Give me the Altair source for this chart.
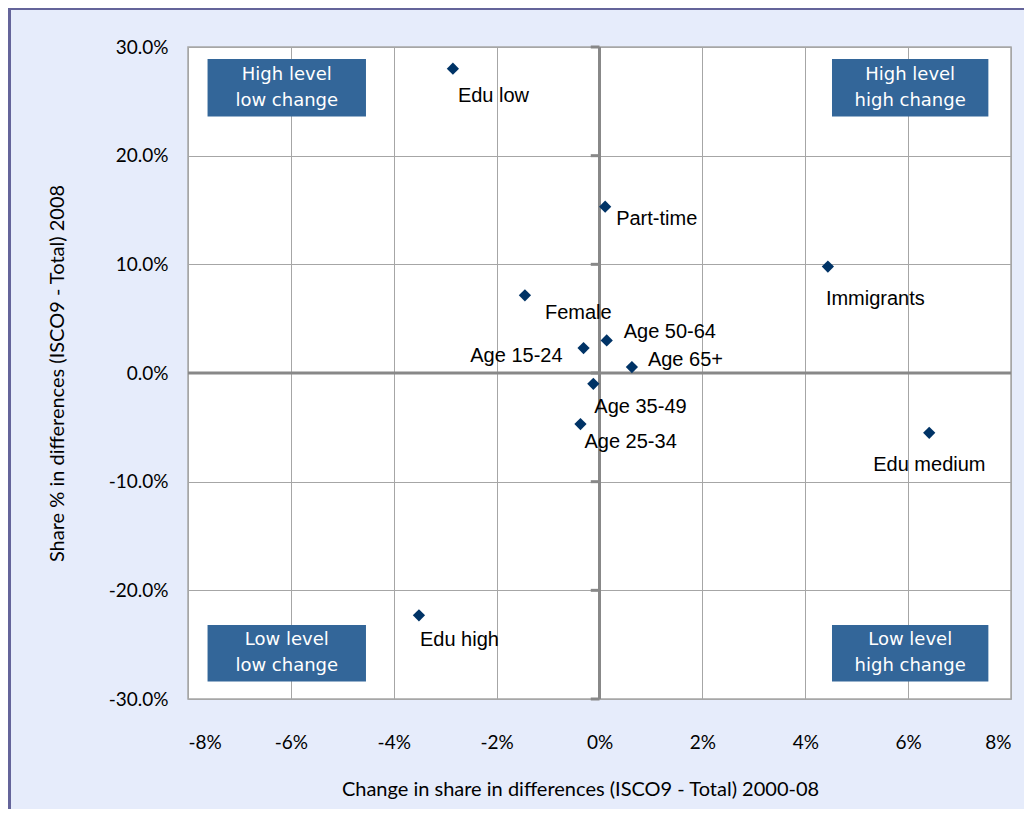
import altair as alt
import pandas as pd

# ---- data ----
names = ["Edu low", "Part-time", "Immigrants", "Female", "Age 50-64", "Age 15-24",
         "Age 65+", "Age 35-49", "Age 25-34", "Edu medium", "Edu high"]
change = [-2.85, 0.11, 4.44, -1.45, 0.14, -0.31, 0.63, -0.12, -0.37, 6.41, -3.51]   # % points
share = [28.0, 15.3, 9.8, 7.15, 3.0, 2.3, 0.55, -1.0, -4.7, -5.5, -22.3]           # %

quad_labels = ["High level\nlow change", "High level\nhigh change",
               "Low level\nlow change", "Low level\nhigh change"]
quad_x1 = [-7.62, 4.52, -7.62, 4.52]
quad_x2 = [-4.54, 7.56, -4.54, 7.56]
quad_y1 = [23.6, 23.6, -28.4, -28.4]
quad_y2 = [28.9, 28.9, -23.2, -23.2]

x_ticks = [-8, -6, -4, -2, 0, 2, 4, 6, 8]
y_ticks = [-30, -20, -10, 0, 10, 20, 30]

# label placement (pixel offsets from the point) -- styling
label_dx = [5, 11, -2, 20, 17, -21, 16, 1, 4, -56, 1]
label_dy = [27, 12, 32, 18, -8, 8, -7, 23, 18, 32, 25]
label_align = ["left", "left", "left", "left", "left", "right",
               "left", "left", "left", "left", "left"]

df = pd.DataFrame({"name": names,
                   "x": [v / 100 for v in change],
                   "y": [v / 100 for v in share]})
qdf = pd.DataFrame({"label": quad_labels,
                    "x1": [v / 100 for v in quad_x1], "x2": [v / 100 for v in quad_x2],
                    "y1": [v / 100 for v in quad_y1], "y2": [v / 100 for v in quad_y2]})
qdf["xc"] = (qdf.x1 + qdf.x2) / 2
qdf["yc"] = (qdf.y1 + qdf.y2) / 2
tdf = pd.DataFrame({"y": [v / 100 for v in y_ticks]})

W, H = 823, 652
PAD = {"left": 180, "top": 39, "right": 13, "bottom": 110}
AXIS_FONT = "Lato"
FIX_MINUS = "replace(datum.label, '\u2212', '-')"

xscale = alt.Scale(domain=[-0.08, 0.08], nice=False, zero=False)
yscale = alt.Scale(domain=[-0.30, 0.30], nice=False, zero=False)

xaxis = alt.Axis(values=[v / 100 for v in x_ticks], format=".0%", labelExpr=FIX_MINUS,
                 grid=True, gridColor="#A6A6A6", gridWidth=1, domain=False, ticks=False,
                 labelFont=AXIS_FONT, labelFontSize=19, labelColor="black",
                 labelPadding=34,
                 title="Change in share in differences  (ISCO9 - Total) 2000-08",
                 titleFont=AXIS_FONT, titleFontSize=20, titleFontWeight="normal",
                 titleColor="black", titleX=392, titleY=90, titleBaseline="middle")
yaxis = alt.Axis(values=[v / 100 for v in y_ticks], format=".1%", labelExpr=FIX_MINUS,
                 grid=True, gridColor="#A6A6A6", gridWidth=1, domain=False, ticks=False,
                 labelFont=AXIS_FONT, labelFontSize=19, labelColor="black",
                 labelPadding=20,
                 title="Share % in differences (ISCO9 - Total) 2008",
                 titleFont=AXIS_FONT, titleFontSize=20, titleFontWeight="normal",
                 titleColor="black", titleX=-131, titleY=326, titleBaseline="middle",
                 titleAngle=-90)

base = alt.Chart(df)

one = pd.DataFrame({"a": [0]})
frame_left = alt.Chart(one).mark_rule(color="#64649A", strokeWidth=4).encode(
    x=alt.value(-PAD["left"] + 1), y=alt.value(-PAD["top"] - 1),
    y2=alt.value(H + PAD["bottom"]))
frame_top = alt.Chart(one).mark_rule(color="#64649A", strokeWidth=4).encode(
    y=alt.value(-PAD["top"] + 0), x=alt.value(-PAD["left"] - 1),
    x2=alt.value(W + PAD["right"]))

points_axes = base.mark_point(shape="diamond", size=0, opacity=0).encode(
    x=alt.X("x:Q", scale=xscale, axis=xaxis),
    y=alt.Y("y:Q", scale=yscale, axis=yaxis),
)

quad_rect = alt.Chart(qdf).mark_rect(color="#336699").encode(
    x=alt.X("x1:Q", scale=xscale), x2="x2:Q",
    y=alt.Y("y1:Q", scale=yscale), y2="y2:Q")
quad_text = alt.Chart(qdf).mark_text(
    color="white", font="DejaVu Sans", fontSize=18, lineBreak="\n", lineHeight=26,
    align="center", baseline="middle", dy=-13
).encode(x=alt.X("xc:Q", scale=xscale), y=alt.Y("yc:Q", scale=yscale), text="label:N")

zero_v = alt.Chart(pd.DataFrame({"x": [0.0]})).mark_rule(
    color="#888888", strokeWidth=3).encode(x=alt.X("x:Q", scale=xscale))
zero_h = alt.Chart(pd.DataFrame({"y": [0.0]})).mark_rule(
    color="#888888", strokeWidth=3).encode(y=alt.Y("y:Q", scale=yscale))
yticks = alt.Chart(tdf).transform_calculate(x1="-0.0017", x2="0").mark_rule(
    color="#888888", strokeWidth=3).encode(
    y=alt.Y("y:Q", scale=yscale), x=alt.X("x1:Q", scale=xscale), x2="x2:Q")

pts = base.mark_point(shape="diamond", filled=True, size=150, color="#003366",
                      opacity=1).encode(
    x=alt.X("x:Q", scale=xscale), y=alt.Y("y:Q", scale=yscale))

labels = []
for n, dx, dy, al in zip(names, label_dx, label_dy, label_align):
    labels.append(base.transform_filter(alt.datum.name == n).mark_text(
        font="Liberation Sans", fontSize=20, color="black",
        align=al, baseline="middle", dx=dx, dy=dy
    ).encode(x=alt.X("x:Q", scale=xscale), y=alt.Y("y:Q", scale=yscale), text="name:N"))

chart = alt.layer(points_axes, quad_rect, quad_text, zero_v, zero_h, yticks, pts,
                  *labels, frame_left, frame_top).properties(
    width=W, height=H,
    padding=PAD,
    autosize=alt.AutoSizeParams(type="none"),
).configure(background="#E6ECFB").configure_view(fill="white", stroke="#A6A6A6",
                                                 strokeWidth=1.5)

chart.save("out.html", embed_options={"renderer": "svg", "actions": False})
